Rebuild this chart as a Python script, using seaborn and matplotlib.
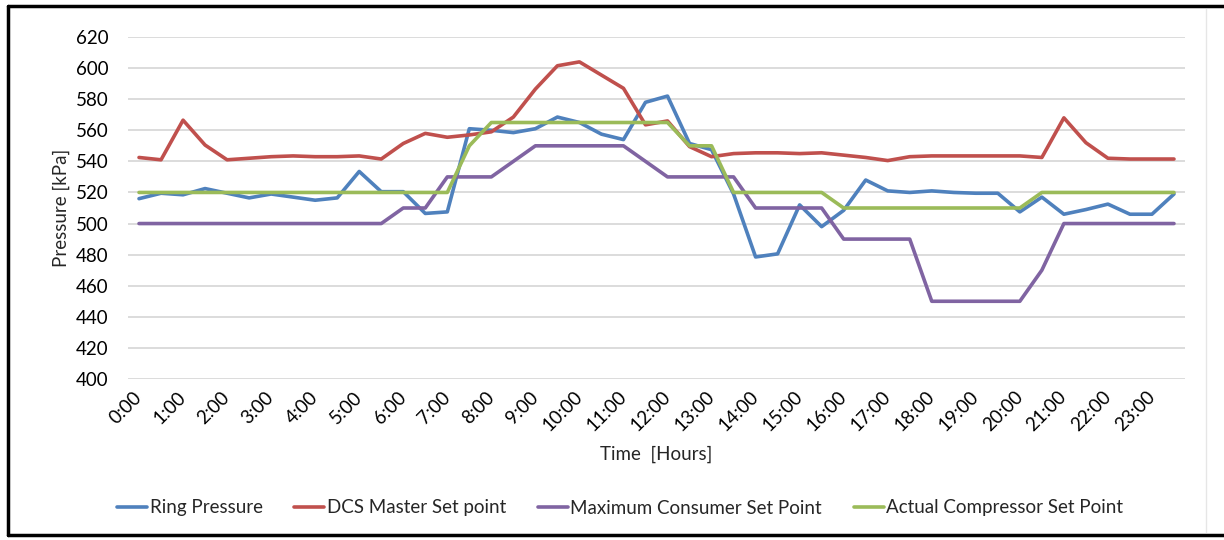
import matplotlib
matplotlib.use("Agg")
import matplotlib.pyplot as plt
from matplotlib.lines import Line2D
import numpy as np
import pandas as pd
import seaborn as sns

# Half-hourly time slots over one day
slots = [f"{h}:{m:02d}" for h in range(24) for m in (0, 30)]
hour_labels = [f"{h}:00" for h in range(24)]

ring_pressure = [
    516, 519.5, 518.5, 522.5, 519.5, 516.5, 519, 517, 515, 516.5, 533.5, 520.5,
    520.5, 506.5, 507.5, 561, 560, 558.5, 561, 568.5, 565, 557.5, 554, 578,
    582, 551.5, 547.5, 519, 478.5, 480.5, 512, 498, 508.5, 528, 521, 520,
    521, 520, 519.5, 519.5, 507.5, 517, 506, 509, 512.5, 506, 506, 519,
]
dcs_master = [
    542.5, 541, 566.5, 550.5, 541, 542, 543, 543.5, 543, 543, 543.5, 541.5,
    551.5, 558, 555.5, 557, 559, 568.5, 586.5, 601.5, 604, 595.5, 587, 563.5,
    566, 549.5, 543, 545, 545.5, 545.5, 545, 545.5, 544, 542.5, 540.5, 543,
    543.5, 543.5, 543.5, 543.5, 543.5, 542.5, 568, 552, 542, 541.5, 541.5, 541.5,
]
max_consumer = [
    500, 500, 500, 500, 500, 500, 500, 500, 500, 500, 500, 500,
    510, 510, 530, 530, 530, 540, 550, 550, 550, 550, 550, 540,
    530, 530, 530, 530, 510, 510, 510, 510, 490, 490, 490, 490,
    450, 450, 450, 450, 450, 470, 500, 500, 500, 500, 500, 500,
]
compressor = [
    520, 520, 520, 520, 520, 520, 520, 520, 520, 520, 520, 520,
    520, 520, 520, 550, 565, 565, 565, 565, 565, 565, 565, 565,
    565, 550, 550, 520, 520, 520, 520, 520, 510, 510, 510, 510,
    510, 510, 510, 510, 510, 520, 520, 520, 520, 520, 520, 520,
]

series_names = ["Ring Pressure", "DCS Master Set point",
                "Maximum Consumer Set Point", "Actual Compressor Set Point"]
series_values = [ring_pressure, dcs_master, max_consumer, compressor]
colors = ["#4F81BD", "#C0504D", "#8064A2", "#9BBB59"]

df = pd.concat(
    [pd.DataFrame({"pos": np.arange(len(slots)), "slot": slots,
                   "kPa": vals, "series": name})
     for name, vals in zip(series_names, series_values)],
    ignore_index=True,
)

sns.set_style("white")
plt.rcParams["font.family"] = ["Lato", "DejaVu Sans"]
fs = 13.5

fig = plt.figure(figsize=(12.24, 5.4), dpi=100)
ax = fig.add_axes([128 / 1224, 1 - 379 / 540, (1185 - 128) / 1224, 342 / 540])

sns.lineplot(data=df, x="pos", y="kPa", hue="series", hue_order=series_names,
             palette=colors, linewidth=2.6, ax=ax, legend=False, sort=False)

ax.set_xlim(-0.5, len(slots) - 0.5)
ax.set_ylim(400, 620)
ax.set_yticks(np.arange(400, 621, 20))
ax.set_xticks(np.arange(0, len(slots), 2))
ax.set_xticklabels(hour_labels, rotation=45, ha="right", va="center",
                   rotation_mode="anchor")
ax.tick_params(axis="y", length=0, pad=14, labelsize=fs, colors="#000000")
ax.tick_params(axis="x", length=0, pad=11, labelsize=fs, colors="#000000")
ax.yaxis.grid(True, color="#D9D9D9", linewidth=1.3)
ax.set_axisbelow(True)
for s in ax.spines.values():
    s.set_visible(False)

ax.set_ylabel("Pressure [kPa]", fontsize=fs, labelpad=4)
ax.set_xlabel("Time  [Hours]", fontsize=fs, labelpad=8)

handles = [Line2D([], [], color=c, linewidth=2.6) for c in colors]
fig.legend(handles, series_names, loc="center", ncol=4, frameon=False,
           bbox_to_anchor=(620 / 1224, 1 - 508 / 540), fontsize=fs,
           handlelength=1.6, handletextpad=0.12, columnspacing=1.7)

# Chart frame
frame_kw = dict(color="black", linewidth=2.5, transform=fig.transFigure)
fig.add_artist(Line2D([8 / 1224, 8 / 1224], [1 - 6 / 540, 1 - 535 / 540], **frame_kw))
fig.add_artist(Line2D([8 / 1224, 1], [1 - 6 / 540, 1 - 6 / 540], **frame_kw))
fig.add_artist(Line2D([8 / 1224, 1], [1 - 535 / 540, 1 - 535 / 540], **frame_kw))
fig.add_artist(Line2D([1206 / 1224, 1206 / 1224], [1 - 9 / 540, 1 - 532 / 540],
                      color="#E6E6E6", linewidth=1, transform=fig.transFigure))

fig.savefig("out.png", dpi=100)
